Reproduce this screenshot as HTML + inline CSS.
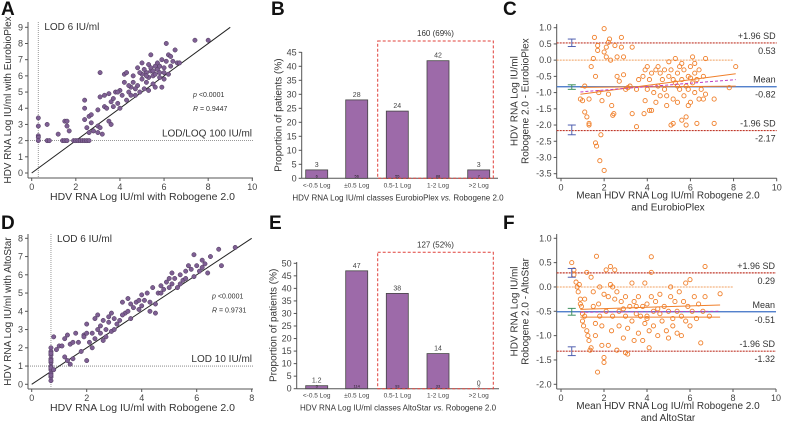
<!DOCTYPE html>
<html><head><meta charset="utf-8"><style>
html,body{margin:0;padding:0;background:#fff;}
svg{display:block;font-family:"Liberation Sans",Arial,sans-serif;}
</style></head><body>
<svg id="fig" width="787" height="428" viewBox="0 0 787 428" xmlns="http://www.w3.org/2000/svg"></svg>
<script>
// ---------- DATA ----------
const aX=[0.3,0.3,0.3,0.3,0.3,0.7,0.8,1.4,1.5,1.6,1.9,2.0,2.1,2.2,2.3,2.4,2.5,2.6,0.7,1.2,1.5,1.6,1.6,1.7,2.4,2.4,2.4,2.5,2.6,2.6,2.7,2.7,2.8,3.0,3.0,3.1,3.2,3.0,3.1,3.1,3.3,3.3,3.4,3.5,3.5,3.6,3.6,3.7,3.8,3.9,4.0,4.0,4.1,4.2,4.2,4.3,4.3,4.4,4.5,4.6,4.7,4.8,4.8,4.9,5.0,5.0,5.1,5.2,5.2,5.3,5.3,5.4,5.4,5.5,5.5,5.6,5.6,5.7,5.7,5.8,5.8,5.9,5.9,6.0,6.0,6.1,6.1,6.2,6.2,6.3,6.3,6.4,6.5,6.6,6.7,7.4,8.0,5.4,5.5,5.6,5.2,5.0,4.6,4.4,4.7,3.9,3.7,5.8,6.0,5.3,4.9,5.1,4.5];
const aY=[3.4,2.9,2.3,2.2,2.0,2.0,2.0,2.0,2.0,2.0,2.0,2.0,2.0,2.0,2.0,2.0,2.0,2.0,3.0,2.4,3.2,3.2,2.9,2.6,4.5,4.0,3.3,2.8,2.5,3.5,3.6,3.1,2.6,2.9,2.5,2.8,2.4,3.9,4.7,6.2,4.1,4.8,4.0,4.9,3.2,3.0,4.4,4.6,5.0,4.3,5.1,4.0,4.8,5.6,6.1,4.5,6.2,5.0,5.3,6.0,4.8,5.4,6.5,5.0,5.8,6.8,5.2,6.2,5.6,5.9,6.7,7.3,6.3,5.5,6.0,6.6,5.3,6.4,6.8,5.9,6.2,5.3,7.0,6.5,5.8,8.0,6.9,7.3,6.1,7.2,6.6,6.9,7.6,6.8,6.8,8.2,8.2,6.5,6.3,6.1,6.0,6.1,5.6,5.4,5.2,5.0,4.1,6.6,6.2,5.1,6.2,6.4,4.8];
const dX=[0.7,0.7,0.7,0.7,0.7,0.7,0.7,0.7,0.7,0.7,0.7,0.7,0.7,0.7,0.8,0.8,0.9,1.0,1.1,1.2,1.2,1.3,1.3,1.4,1.4,1.5,1.5,1.6,1.7,1.8,1.9,2.0,2.0,2.0,2.1,2.2,2.3,2.3,2.4,2.4,2.5,2.5,2.6,2.6,2.7,2.7,2.8,2.9,2.9,3.0,3.1,3.2,3.3,3.4,3.5,3.5,3.6,3.7,3.8,3.9,4.0,4.0,4.1,4.2,4.3,4.4,4.5,4.5,4.6,4.7,4.8,4.9,5.0,5.1,5.1,5.2,5.3,5.4,5.5,5.6,5.7,5.8,5.9,5.9,6.0,6.1,6.2,6.3,6.4,6.5,6.8,6.9,7.4,3.0,3.3,2.2,1.9,4.3,5.0,5.6,6.2,3.6,2.8,3.9,4.7,5.4];
const dY=[0.2,0.4,0.6,0.8,1.0,1.2,1.4,1.6,1.8,2.0,0.5,0.9,1.3,1.7,0.8,2.6,1.9,2.1,2.1,1.5,2.5,2.7,1.3,1.1,2.2,2.3,1.4,2.8,2.3,1.8,2.7,2.8,1.3,3.3,2.3,2.8,3.6,2.5,3.0,3.8,2.8,3.2,2.4,3.5,3.0,2.6,3.4,3.9,2.9,3.6,3.3,3.5,4.5,3.9,4.7,4.0,3.6,4.2,4.5,4.1,4.9,4.3,4.6,5.0,4.5,5.3,4.4,3.9,5.0,5.4,5.2,5.6,5.3,6.1,5.5,5.8,5.3,6.0,5.7,6.2,6.5,6.3,5.9,7.1,6.5,6.2,6.8,6.6,6.1,7.0,7.4,6.5,7.5,3.0,3.8,2.0,2.6,4.0,5.8,5.8,6.4,4.4,3.7,4.6,5.0,5.5];
const bCats=["<-0.5 Log","±0.5 Log","0.5-1 Log","1-2 Log",">2 Log"];
const bVals=[3,28,24,42,3];
const bN=["6","56","55","88","7"];
const eVals=[1.2,47,38,14,0];
const eLabels=["1.2","47","38","14","0"];
const eN=["3","114","93","33","0"];
const cX=[0.9,1.0,1.1,1.1,1.2,1.3,1.3,1.3,1.4,1.5,1.55,1.6,1.6,1.65,1.7,1.7,1.75,1.8,1.85,1.9,2.0,2.0,2.0,2.1,2.1,2.2,2.2,2.25,2.3,2.35,2.4,2.45,2.5,2.6,2.6,2.7,2.8,2.8,2.9,2.9,3.0,3.1,3.2,3.3,3.3,3.5,3.5,3.6,3.8,3.85,3.9,3.9,4.0,4.0,4.1,4.1,4.2,4.2,4.3,4.4,4.4,4.5,4.5,4.6,4.7,4.8,4.9,5.0,5.0,5.1,5.1,5.2,5.2,5.3,5.3,5.4,5.4,5.5,5.5,5.6,5.6,5.7,5.7,5.8,5.8,5.8,5.9,5.9,6.0,6.0,6.1,6.1,6.2,6.2,6.3,6.3,6.4,6.4,6.5,6.6,6.6,6.7,6.7,7.1,7.1,7.8,8.1,4.8,5.6,6.0,5.2,4.6,5.4,6.2,5.9,4.9];
const cY=[-1.2,-1.25,-0.8,-1.6,-1.75,-1.95,-2.0,-1.2,-0.2,0.05,0.7,-0.5,-2.55,-2.65,0.3,0.45,-1.0,-3.1,-2.3,-1.25,0.97,-3.4,0.25,0.4,0.1,0.55,-1.05,0.65,0.0,-1.4,-1.7,-1.65,0.45,-0.5,0.1,-0.65,0.7,0.4,0.1,-0.45,-0.9,-0.85,-0.8,0.4,-1.65,-2.05,-0.9,-0.6,-0.5,-1.65,-1.25,-0.3,-0.2,-0.9,-1.55,-0.6,-1.55,-0.4,-1.0,-0.3,-1.3,-0.8,-0.2,-1.1,-0.6,-0.9,-1.4,-0.05,-0.5,-2.0,-0.3,-1.95,-1.2,-0.7,0.05,-1.3,-0.4,-0.9,-0.2,-1.85,-0.6,-1.1,-0.3,-2.0,-1.75,-0.8,-1.4,-0.5,-1.3,-0.2,0.1,-0.7,-1.0,-0.4,-1.95,-0.6,-0.3,-1.2,-0.9,-0.5,-1.2,0.05,-1.05,-1.2,-1.95,-0.85,-0.2,-0.3,-0.1,-0.55,-0.6,-0.4,-0.8,-0.1,-0.9,-1.1];
const cStats=[0.53,-0.82,-2.17];
const fX=[0.5,0.6,0.6,0.7,0.75,0.8,0.85,0.9,0.9,0.95,1.0,1.0,1.05,1.1,1.1,1.2,1.2,1.25,1.3,1.35,1.4,1.4,1.5,1.5,1.6,1.6,1.65,1.7,1.75,1.8,1.8,1.9,1.9,2.0,2.0,2.0,2.1,2.2,2.2,2.3,2.3,2.35,2.4,2.4,2.5,2.5,2.6,2.6,2.7,2.7,2.8,2.9,3.0,3.0,3.0,3.1,3.1,3.2,3.3,3.3,3.4,3.4,3.5,3.6,3.6,3.7,3.8,3.8,3.9,3.9,4.0,4.0,4.1,4.1,4.2,4.2,4.3,4.3,4.4,4.5,4.6,4.6,4.7,4.8,4.9,5.0,5.0,5.1,5.1,5.2,5.3,5.4,5.4,5.5,5.6,5.6,5.7,5.8,5.8,5.9,6.0,6.0,6.1,6.2,6.3,6.4,6.5,6.6,6.7,6.7,6.9,7.4,4.2,2.1,4.0,3.5,5.2,2.9,4.5];
const fY=[0.5,0.35,0.25,0.1,0.0,-0.1,0.05,-0.25,-0.35,-0.4,-0.55,-0.7,-0.8,-0.25,-0.6,-0.9,0.3,-1.0,-1.1,-1.3,0.2,-1.25,-0.1,-0.4,-0.75,-1.0,0.63,-1.75,-0.35,0.0,-0.6,-0.8,-1.2,-1.45,-1.55,-0.15,-0.5,-0.2,-1.2,0.05,0.42,-0.9,-0.6,0.0,0.35,-0.25,-1.3,-0.1,-0.5,-0.8,-0.3,-1.05,-0.6,-1.35,-0.2,-0.85,-1.38,-0.4,0.08,-0.7,-0.3,-1.1,-0.55,-0.2,-0.95,-0.6,-0.4,-1.1,0.08,-0.75,-0.35,-0.6,-1.25,-0.9,0.62,-0.2,-0.5,-0.8,-0.3,-1.0,-0.55,-0.15,-0.7,-0.4,-0.9,-0.5,-1.05,-0.2,0.0,-0.65,-0.3,-0.95,-0.5,-0.1,-1.0,-0.6,-0.3,0.08,-0.7,-0.4,0.15,-0.8,-0.5,-0.2,-0.65,-0.35,-1.15,-0.5,0.42,-0.2,-0.6,-0.14,0.3,0.35,-0.65,-0.4,-0.8,-0.45,-0.45];
const fStats=[0.29,-0.51,-1.32];
const ticks10=[0,2,4,6,8,10];
const ticks8=[0,2,4,6,8];
const ticksA=[0,1,2,3,4,5,6,7,8,9];
const ticksB=[0,5,10,15,20,25,30,35,40,45];
const ticksE=[0,5,10,15,20,25,30,35,40,45,50];
const ticksC=[1.0,0.5,0.0,-0.5,-1.0,-1.5,-2.0,-2.5,-3.0,-3.5];
const ticksF=[1.0,0.5,0.0,-0.5,-1.0,-1.5,-2.0];

// ---------- HELPERS ----------
const NS="http://www.w3.org/2000/svg";
const svg=document.getElementById('fig');
function mk(tag,attrs,parent){const e=document.createElementNS(NS,tag);for(const k in attrs)e.setAttribute(k,attrs[k]);(parent||svg).appendChild(e);return e;}
function txt(s,x,y,size,attrs,parent){const e=mk('text',Object.assign({x:x,y:y,'font-size':size,fill:'#222'},attrs||{}),parent);e.textContent=s;return e;}
function lin(d0,d1,p0,p1){return v=>p0+(v-d0)*(p1-p0)/(d1-d0);}
function group(name){const g=mk('g',{});return g;}
function axes(g,x0,x1,y0,y1){mk('line',{x1:x0,y1:y0,x2:x0,y2:y1,stroke:'#555','stroke-width':1},g);mk('line',{x1:x0,y1:y1,x2:x1,y2:y1,stroke:'#555','stroke-width':1},g);}
function xTicks(g,ticks,sx,yAxis,fmt){ticks.forEach(t=>{mk('line',{x1:sx(t),y1:yAxis,x2:sx(t),y2:yAxis+3,stroke:'#555'},g);txt(fmt?fmt(t):String(t),sx(t),yAxis+12,9,{'text-anchor':'middle',fill:'#444'},g);});}
function yTicks(g,ticks,sy,xAxis,fmt){ticks.forEach(t=>{mk('line',{x1:xAxis-3,y1:sy(t),x2:xAxis,y2:sy(t),stroke:'#555'},g);txt(fmt?fmt(t):String(t),xAxis-5,sy(t)+3,9,{'text-anchor':'end',fill:'#444'},g);});}
function panelLabel(s,x,y){const t=txt(s,x,y,19,{'font-weight':'bold',fill:'#111'});}

// ---------- SCATTER PANELS ----------
function scatterPanel(name,xs,ys,sx,sy,ax,xticks,yticks,lodX,lodY,lodYLabel,diagMax,pText,rText,ytitle,ytitleCx){
  const g=group(name);
  axes(g,ax.x0,ax.x1,ax.y0,ax.y1);
  xTicks(g,xticks,sx,ax.y1);yTicks(g,yticks,sy,ax.x0);
  mk('line',{x1:sx(lodX),y1:ax.y0,x2:sx(lodX),y2:ax.y1,stroke:'#999','stroke-width':1,'stroke-dasharray':'1,1'},g);
  mk('line',{x1:ax.x0,y1:sy(lodY),x2:ax.x1,y2:sy(lodY),stroke:'#777','stroke-width':0.8,'stroke-dasharray':'1,1'},g);
  const ll=txt(lodYLabel,ax.x1-1,sy(lodY)-4,10,{'text-anchor':'end',fill:'#333'},g);
  
  txt('LOD 6 IU/ml',sx(lodX)+6,ax.y0+8,10,{fill:'#333'},g);
  mk('line',{x1:sx(0),y1:sy(0),x2:sx(diagMax),y2:sy(diagMax),stroke:'#222','stroke-width':1},g);
  xs.forEach((x,i)=>{const c=mk('circle',{cx:sx(x),cy:sy(ys[i]),r:2.2,fill:'#7e5f93',stroke:'#4a3558','stroke-width':0.5},g);
    
    });
  const px=ax.pX;
  const p=txt('',px,sy(ax.pY),7,{fill:'#333'},g);p.innerHTML='<tspan font-style="italic">p</tspan> &lt;0.0001';
  const r=txt('',px,sy(ax.pY)+14,7,{fill:'#333'},g);r.innerHTML='<tspan font-style="italic">R</tspan> = '+rText;
  const yt=txt(ytitle,0,0,10,{'text-anchor':'middle',transform:`translate(${ytitleCx},${(ax.y0+ax.y1)/2}) rotate(-90)`,fill:'#333'},g);
  
  const xt=txt('HDV RNA Log IU/ml with Robogene 2.0',(ax.x0+ax.x1)/2+2,ax.y1+22,10.5,{'text-anchor':'middle',fill:'#333'},g);
  
}
{
 const sx=lin(0,10,31.7,252.3), sy=lin(0,9,173,27.3);
 scatterPanel('scatter-a',aX,aY,sx,sy,{x0:28,x1:253,y0:22,y1:178,pX:193,pY:4.7},ticks10,ticksA,0.3,2,'LOD/LOQ 100 IU/ml',9,'','0.9447','HDV RNA Log IU/ml with EurobioPlex',11);
}
{
 const sx=lin(0,8,31.7,251.7), sy=lin(0,8,384.3,238.3);
 scatterPanel('scatter-d',dX,dY,sx,sy,{x0:28,x1:253,y0:234,y1:389,pX:212,pY:4.7},ticks8,ticksA.slice(0,9),0.7,1,'LOD 10 IU/ml',8,'','0.9731','HDV RNA Log IU/ml with AltoStar',11);
}

// ---------- BAR PANELS ----------
function barPanel(name,vals,labels,ns,sy,ax,yticks,boxTop,boxText,xtitleHTML){
  const g=group(name);
  const centers=[316.7,356.7,397.3,438,478.7];
  axes(g,ax.x0,ax.x1,ax.y0,ax.y1);
  yTicks(g,yticks,sy,ax.x0);
  vals.forEach((v,i)=>{
    const b=mk('rect',{x:centers[i]-11,y:sy(v),width:22,height:Math.max(0,sy(0)-sy(v)),fill:'#9d6aa9',stroke:'#444','stroke-width':0.8},g);
    
    
    txt(labels[i],centers[i],sy(v)-3,7,{'text-anchor':'middle',fill:'#444'},g);
    txt(ns[i],centers[i],sy(0)-1,4,{'text-anchor':'middle',fill:'#222'},g);
    txt(bCats[i],centers[i],ax.y1+9,6.5,{'text-anchor':'middle',fill:'#444'},g);
  });
  mk('rect',{x:377.7,y:boxTop,width:115.6,height:ax.y1-boxTop,fill:'none',stroke:'#e0403a','stroke-width':1,'stroke-dasharray':'3,2'},g);
  txt(boxText,435.5,boxTop-5,8,{'text-anchor':'middle',fill:'#333'},g);
  const yt=txt('Proportion of patients (%)',0,0,10,{'text-anchor':'middle',transform:`translate(${ax.x0-20},${(ax.y0+ax.y1)/2}) rotate(-90)`,fill:'#333'},g);
  
  const xt=txt('',398,ax.y1+22,8,{'text-anchor':'middle',fill:'#333'},g);xt.innerHTML=xtitleHTML;
  
}
barPanel('bar-chart-b',bVals,bVals.map(String),bN,lin(0,45,178.3,52.3),{x0:301.7,x1:498,y0:52,y1:178.3},ticksB,41,'160 (69%)','HDV RNA Log IU/ml classes EurobioPlex <tspan font-style="italic">vs.</tspan> Robogene 2.0');
barPanel('bar-chart-e',eVals,eLabels,eN,lin(0,50,388.7,263.3),{x0:296.7,x1:499,y0:262,y1:388.7},ticksE,252.3,'127 (52%)','HDV RNA Log IU/ml classes AltoStar <tspan font-style="italic">vs.</tspan> Robogene 2.0');

// ---------- BLAND-ALTMAN PANELS ----------
function baPanel(name,xs,ys,stats,sx,sy,ax,yticks,trend,ytitle2,xtitle2,err){
  const g=group(name);
  axes(g,ax.x0,ax.x1,ax.y0,ax.y1);
  xTicks(g,ticks10,sx,ax.y1);yTicks(g,yticks,sy,ax.x0,t=>t.toFixed(1));
  mk('line',{x1:ax.x0,y1:sy(0),x2:sx(8),y2:sy(0),stroke:'#f0a060','stroke-width':1,'stroke-dasharray':'2,1'},g);
  [0,2].forEach(k=>mk('line',{x1:ax.x0,y1:sy(stats[k]),x2:ax.x1,y2:sy(stats[k]),stroke:'#c0392b','stroke-width':1.2,'stroke-dasharray':'2,1'},g));
  mk('line',{x1:ax.x0,y1:sy(stats[1]),x2:ax.x1,y2:sy(stats[1]),stroke:'#3b6fc4','stroke-width':1.3},g);
  xs.forEach((x,i)=>{const c=mk('circle',{cx:sx(x),cy:sy(ys[i]),r:2.1,fill:'none',stroke:'#f07f2a','stroke-width':0.9},g);
    
    });
  mk('line',{x1:sx(trend[0]),y1:sy(trend[1]),x2:sx(trend[2]),y2:sy(trend[3]),stroke:'#f07f2a','stroke-width':1},g);
  mk('line',{x1:sx(trend[0]),y1:sy(trend[4]),x2:sx(trend[2]),y2:sy(trend[5]),stroke:'#f07f2a','stroke-width':1},g);
  mk('line',{x1:sx(trend[0]),y1:sy(trend[6]),x2:sx(trend[2]),y2:sy(trend[7]),stroke:'#c040c0','stroke-width':1,'stroke-dasharray':'3,2'},g);
  const cols=['#5060b0','#409060','#5060b0'];
  err.forEach((e,k)=>{const xx=sx(0.5);
    mk('line',{x1:xx,y1:sy(e[0]),x2:xx,y2:sy(e[1]),stroke:cols[k],'stroke-width':1},g);
    mk('line',{x1:xx-4,y1:sy(e[0]),x2:xx+4,y2:sy(e[0]),stroke:cols[k],'stroke-width':1},g);
    mk('line',{x1:xx-4,y1:sy(e[1]),x2:xx+4,y2:sy(e[1]),stroke:cols[k],'stroke-width':1},g);});
  const lbl=['+1.96 SD','Mean','-1.96 SD'];
  stats.forEach((s,k)=>{txt(lbl[k],ax.x1-1,sy(s)-4,9,{'text-anchor':'end',fill:'#333'},g);
    txt(s.toFixed(2),ax.x1-1,sy(s)+11,9,{'text-anchor':'end',fill:'#333'},g);});
  const cy=(ax.y0+ax.y1)/2;
  const yt=txt('HDV RNA Log IU/ml',0,0,10,{'text-anchor':'middle',transform:`translate(${ax.x0-39},${cy}) rotate(-90)`,fill:'#333'},g);
  
  txt(ytitle2,0,0,10,{'text-anchor':'middle',transform:`translate(${ax.x0-28},${cy}) rotate(-90)`,fill:'#333'},g);
  const xt=txt('Mean HDV RNA Log IU/ml Robogene 2.0',668,ax.y1+20,10,{'text-anchor':'middle',fill:'#333'},g);
  
  txt(xtitle2,668,ax.y1+32,10,{'text-anchor':'middle',fill:'#333'},g);
}
baPanel('bland-altman-c',cX,cY,cStats,lin(0,10,561,776.7),lin(1,-3.5,27.7,173.7),{x0:556.7,x1:776.7,y0:24,y1:178.3},ticksC,[0.9,-1.05,8.1,-0.42,-0.84,-0.8,-0.98,-0.6],'Robogene 2.0 - EurobioPlex','and EurobioPlex',[[0.65,0.42],[-0.76,-0.9],[-2.0,-2.3]]);
baPanel('bland-altman-f',fX,fY,fStats,lin(0,10,561,776),lin(1,-2,238.3,384.3),{x0:556.7,x1:776,y0:234,y1:389},ticksF,[0.9,-0.46,7.4,-0.37,-0.62,-0.62,-0.52,-0.5],'Robogene 2.0 - AltoStar','and AltoStar',[[0.38,0.2],[-0.44,-0.58],[-1.23,-1.41]]);

panelLabel('A',1,15);panelLabel('B',271,15);panelLabel('C',503,15);
panelLabel('D',1,229);panelLabel('E',269,229);panelLabel('F',503,229);
</script>
</body></html>
